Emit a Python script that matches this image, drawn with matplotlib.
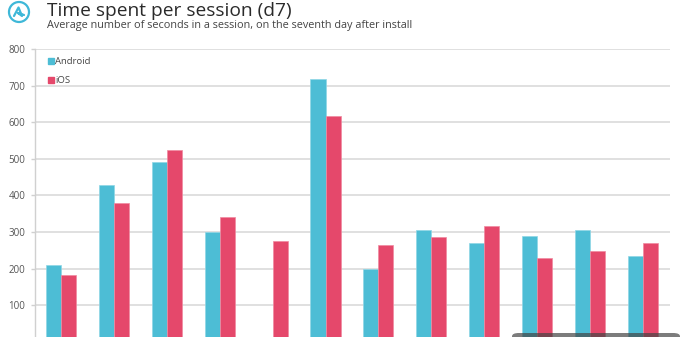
import numpy as np
import matplotlib
matplotlib.use("Agg")
import matplotlib.pyplot as plt
from matplotlib.lines import Line2D
from matplotlib.patches import Circle, FancyBboxPatch

plt.rcParams['font.family'] = ['Open Sans', 'DejaVu Sans']

# values (seconds per session, d7)
android = [209, 427, 491, 300, 0, 719, 200, 306, 271, 289, 304, 233]
ios = [183, 379, 523, 340, 274, 616, 265, 286, 316, 229, 248, 269]
series_names = ["Android", "iOS"]
yticks = [100, 200, 300, 400, 500, 600, 700, 800]

android_color = "#4dbdd5"
ios_color = "#e5486b"

fig = plt.figure(figsize=(6.91, 3.37), dpi=100)
ax = fig.add_axes([35 / 691, -4.7 / 337, 635 / 691, 292.7 / 337])

x = np.arange(len(android))
w = 0.284
ax.bar(x - w / 2, android, w, color=android_color, edgecolor="#8fd6e6", linewidth=0.5, zorder=3)
ax.bar(x + w / 2, ios, w, color=ios_color, edgecolor="#f08aa0", linewidth=0.5, zorder=3)

ax.set_xlim(-0.49, 11.51)
ax.set_ylim(0, 800)
ax.set_yticks(yticks)
ax.set_xticks([])
ax.yaxis.grid(True, color="#e0e0e0", linewidth=1.4, zorder=0)
ax.tick_params(axis="y", length=3, width=1, color="#d0d0d0", labelsize=7,
               labelcolor="#555555", pad=4)
for s in ["top", "right", "bottom"]:
    ax.spines[s].set_visible(False)
ax.spines["left"].set_color("#d0d0d0")
ax.spines["left"].set_linewidth(1)

handles = [Line2D([], [], marker="s", linestyle="", markersize=3.8, color=c)
           for c in (android_color, ios_color)]
leg = ax.legend(handles, series_names, loc="upper left", bbox_to_anchor=(0.007, 1.0),
                frameon=False, fontsize=6.8, handlelength=0.6, handletextpad=0.15,
                labelspacing=1.05, labelcolor="#444444")

# title and subtitle
fig.text(47 / 691, 1 - 16 / 337, "Time spent per session (d7)", fontsize=13.8,
         color="#2a2a2a", va="baseline")
fig.text(47 / 691, 1 - 28 / 337,
         "Average number of seconds in a session, on the seventh day after install",
         fontsize=7.8, color="#444444", va="baseline")

# logo
logo_ax = fig.add_axes([7 / 691, 1 - 24 / 337, 24 / 691, 24 / 337])
logo_ax.set_xlim(0, 24)
logo_ax.set_ylim(0, 24)
logo_ax.set_aspect("equal")
logo_ax.axis("off")
logo_ax.add_patch(Circle((12, 12), 10, fill=False, edgecolor="#3fb8d8", linewidth=1.6))
logo_ax.plot([7, 11.5, 15, 11, 17], [8, 16.5, 8, 11, 9], color="#3fb8d8",
             linewidth=1.6, solid_capstyle="round", solid_joinstyle="round")

# dark overlay at bottom right
fig.patches.append(FancyBboxPatch((512 / 691, -10 / 337), 168 / 691, 14 / 337,
                                  boxstyle="round,pad=0,rounding_size=0.01",
                                  transform=fig.transFigure, facecolor="#444444",
                                  edgecolor="none", alpha=0.7, zorder=10))

fig.savefig("out.png", dpi=100)
